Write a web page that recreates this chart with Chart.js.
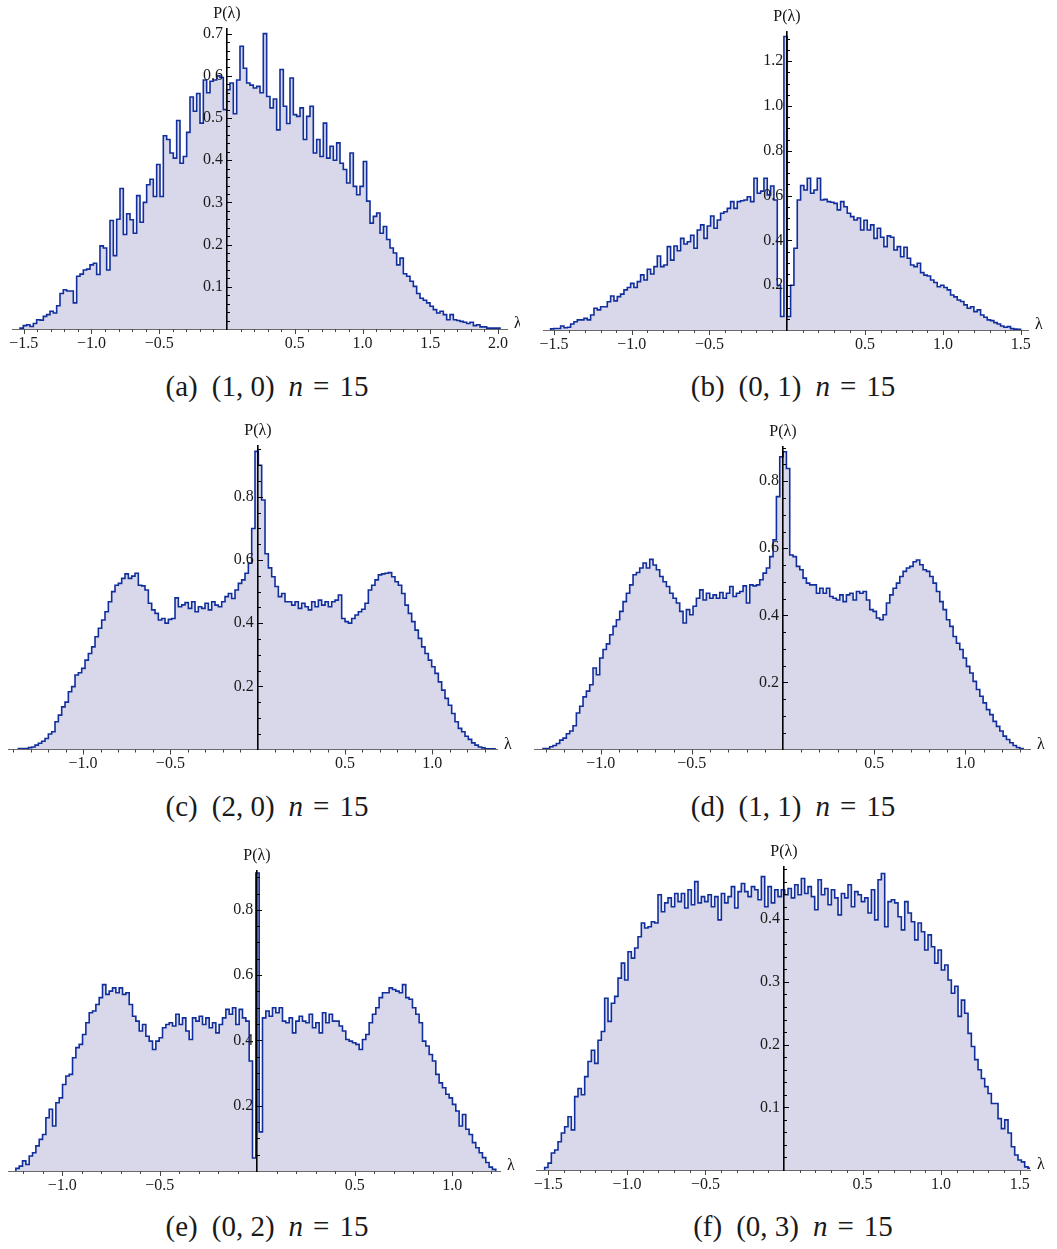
<!DOCTYPE html>
<html lang="en">
<head>
<meta charset="UTF-8">
<title>Eigenvalue densities P(λ), n = 15</title>
<script src="https://cdn.jsdelivr.net/npm/chart.js"></script>
<style>
  body { margin: 0; width: 1057px; height: 1249px; background: #fff; position: relative; overflow: hidden; }
  canvas { position: absolute; }
  .cap {
    position: absolute; transform: translate(-50%, -50%); white-space: nowrap;
    font-family: 'Liberation Serif', 'DejaVu Serif', serif; font-size: 29px; color: #1a1a1a;
  }
  .cap .eq { margin: 0 10px; }
  .cap .gap { display: inline-block; width: 14px; }
</style>
</head>
<body>
<script>
// ---- data: histogram bins (left edge of first bin, bin width) and heights ----
const binStartA = -1.5277, binWidthA = 0.0246;
const valuesA = [
  0.002, 0.008, 0.010, 0.006, 0.013, 0.022, 0.021, 0.030, 0.034, 0.042,
  0.038, 0.055, 0.084, 0.093, 0.090, 0.090, 0.062, 0.125, 0.130, 0.140,
  0.142, 0.152, 0.156, 0.129, 0.197, 0.192, 0.140, 0.257, 0.174, 0.260,
  0.333, 0.224, 0.273, 0.259, 0.227, 0.316, 0.253, 0.300, 0.342, 0.355,
  0.314, 0.390, 0.314, 0.458, 0.449, 0.417, 0.405, 0.494, 0.393, 0.409,
  0.466, 0.550, 0.516, 0.558, 0.488, 0.590, 0.560, 0.587, 0.590, 0.600,
  0.596, 0.520, 0.567, 0.583, 0.510, 0.590, 0.670, 0.618, 0.583, 0.578,
  0.571, 0.575, 0.560, 0.700, 0.551, 0.524, 0.545, 0.472, 0.615, 0.528,
  0.487, 0.595, 0.508, 0.504, 0.524, 0.449, 0.504, 0.528, 0.417, 0.449,
  0.409, 0.488, 0.405, 0.433, 0.400, 0.441, 0.393, 0.378, 0.346, 0.417,
  0.338, 0.318, 0.338, 0.397, 0.303, 0.251, 0.267, 0.275, 0.227, 0.243,
  0.212, 0.192, 0.180, 0.152, 0.168, 0.131, 0.125, 0.113, 0.101, 0.084,
  0.073, 0.068, 0.062, 0.054, 0.046, 0.038, 0.042, 0.034, 0.022, 0.034,
  0.022, 0.020, 0.018, 0.016, 0.013, 0.016, 0.008, 0.010, 0.005, 0.005,
  0.002, 0.002, 0.002, 0.002
];

const binStartB = -1.521, binWidthB = 0.02142;
const valuesB = [
  0.005, 0.007, 0.007, 0.018, 0.010, 0.012, 0.027, 0.037, 0.045, 0.045,
  0.052, 0.045, 0.067, 0.097, 0.090, 0.104, 0.104, 0.126, 0.152, 0.130,
  0.149, 0.160, 0.179, 0.190, 0.208, 0.190, 0.216, 0.246, 0.223, 0.271,
  0.250, 0.283, 0.330, 0.283, 0.290, 0.372, 0.312, 0.375, 0.354, 0.409,
  0.384, 0.394, 0.423, 0.365, 0.446, 0.469, 0.409, 0.464, 0.509, 0.454,
  0.491, 0.521, 0.528, 0.543, 0.573, 0.543, 0.573, 0.577, 0.580, 0.595,
  0.573, 0.677, 0.610, 0.620, 0.677, 0.603, 0.643, 0.580, 0.200, 0.060,
  1.310, 0.060, 0.200, 0.365, 0.580, 0.645, 0.625, 0.677, 0.610, 0.625,
  0.677, 0.580, 0.583, 0.573, 0.570, 0.565, 0.536, 0.573, 0.550, 0.521,
  0.506, 0.491, 0.500, 0.446, 0.490, 0.446, 0.469, 0.409, 0.454, 0.414,
  0.372, 0.420, 0.414, 0.357, 0.372, 0.327, 0.369, 0.320, 0.290, 0.283,
  0.298, 0.256, 0.245, 0.241, 0.223, 0.212, 0.193, 0.200, 0.190, 0.179,
  0.156, 0.148, 0.134, 0.127, 0.112, 0.097, 0.104, 0.082, 0.090, 0.067,
  0.057, 0.045, 0.042, 0.033, 0.027, 0.018, 0.012, 0.015, 0.006, 0.004,
  0.003
];

const binStartC = -1.3707, binWidthC = 0.01909;
const valuesC = [
  0.003, 0.003, 0.003, 0.006, 0.008, 0.014, 0.020, 0.026, 0.035, 0.049,
  0.056, 0.088, 0.109, 0.135, 0.150, 0.183, 0.199, 0.236, 0.243, 0.257,
  0.283, 0.304, 0.325, 0.357, 0.384, 0.410, 0.436, 0.468, 0.500, 0.520,
  0.526, 0.542, 0.556, 0.542, 0.549, 0.558, 0.520, 0.518, 0.505, 0.463,
  0.442, 0.431, 0.410, 0.415, 0.400, 0.412, 0.415, 0.480, 0.452, 0.458,
  0.465, 0.447, 0.468, 0.436, 0.452, 0.447, 0.463, 0.442, 0.468, 0.457,
  0.452, 0.468, 0.484, 0.494, 0.478, 0.505, 0.526, 0.537, 0.558, 0.590,
  0.700, 0.944, 0.900, 0.790, 0.620, 0.575, 0.547, 0.516, 0.484, 0.494,
  0.468, 0.468, 0.457, 0.468, 0.447, 0.463, 0.452, 0.442, 0.468, 0.452,
  0.473, 0.457, 0.468, 0.452, 0.468, 0.473, 0.489, 0.415, 0.405, 0.400,
  0.415, 0.426, 0.436, 0.444, 0.463, 0.505, 0.520, 0.537, 0.553, 0.556,
  0.558, 0.560, 0.547, 0.531, 0.520, 0.494, 0.457, 0.431, 0.405, 0.378,
  0.352, 0.325, 0.304, 0.283, 0.262, 0.241, 0.214, 0.188, 0.162, 0.140,
  0.114, 0.088, 0.067, 0.056, 0.042, 0.032, 0.021, 0.014, 0.008, 0.005,
  0.002, 0.002, 0.002
];

const binStartD = -1.3165, binWidthD = 0.01829;
const valuesD = [
  0.003, 0.003, 0.008, 0.012, 0.018, 0.028, 0.034, 0.047, 0.055, 0.071,
  0.109, 0.129, 0.157, 0.174, 0.193, 0.243, 0.223, 0.273, 0.298, 0.315,
  0.342, 0.367, 0.387, 0.412, 0.441, 0.466, 0.491, 0.521, 0.528, 0.541,
  0.556, 0.541, 0.567, 0.550, 0.536, 0.516, 0.500, 0.486, 0.466, 0.451,
  0.437, 0.412, 0.377, 0.417, 0.402, 0.427, 0.451, 0.476, 0.446, 0.466,
  0.451, 0.461, 0.451, 0.468, 0.451, 0.466, 0.486, 0.456, 0.466, 0.471,
  0.488, 0.437, 0.491, 0.488, 0.491, 0.506, 0.526, 0.541, 0.575, 0.625,
  0.754, 0.873, 0.888, 0.838, 0.580, 0.575, 0.546, 0.536, 0.511, 0.496,
  0.491, 0.491, 0.466, 0.481, 0.466, 0.481, 0.456, 0.451, 0.446, 0.461,
  0.441, 0.461, 0.466, 0.446, 0.471, 0.466, 0.471, 0.446, 0.417, 0.412,
  0.392, 0.387, 0.402, 0.437, 0.461, 0.481, 0.496, 0.516, 0.531, 0.541,
  0.546, 0.560, 0.565, 0.551, 0.536, 0.531, 0.516, 0.496, 0.471, 0.441,
  0.417, 0.387, 0.367, 0.337, 0.317, 0.298, 0.273, 0.248, 0.228, 0.203,
  0.179, 0.159, 0.139, 0.119, 0.104, 0.084, 0.069, 0.055, 0.040, 0.030,
  0.020, 0.012, 0.006, 0.003
];

const binStartE = -1.2376, binWidthE = 0.01709;
const valuesE = [
  0.008, 0.015, 0.031, 0.020, 0.046, 0.056, 0.077, 0.097, 0.112, 0.163,
  0.189, 0.138, 0.209, 0.224, 0.265, 0.291, 0.296, 0.347, 0.378, 0.388,
  0.418, 0.454, 0.485, 0.490, 0.510, 0.531, 0.571, 0.541, 0.551, 0.561,
  0.546, 0.561, 0.541, 0.546, 0.510, 0.474, 0.459, 0.429, 0.449, 0.413,
  0.398, 0.372, 0.398, 0.408, 0.439, 0.449, 0.454, 0.444, 0.480, 0.449,
  0.469, 0.429, 0.403, 0.469, 0.459, 0.474, 0.449, 0.469, 0.439, 0.454,
  0.423, 0.449, 0.469, 0.495, 0.480, 0.500, 0.449, 0.495, 0.469, 0.459,
  0.337, 0.040, 0.913, 0.120, 0.469, 0.490, 0.474, 0.500, 0.485, 0.500,
  0.459, 0.454, 0.469, 0.423, 0.459, 0.474, 0.459, 0.454, 0.480, 0.439,
  0.454, 0.423, 0.485, 0.454, 0.480, 0.459, 0.459, 0.444, 0.429, 0.403,
  0.398, 0.393, 0.388, 0.372, 0.403, 0.418, 0.454, 0.480, 0.500, 0.531,
  0.546, 0.546, 0.561, 0.556, 0.551, 0.546, 0.571, 0.531, 0.526, 0.500,
  0.480, 0.454, 0.398, 0.383, 0.357, 0.337, 0.296, 0.270, 0.255, 0.235,
  0.224, 0.204, 0.184, 0.138, 0.173, 0.128, 0.112, 0.087, 0.071, 0.056,
  0.041, 0.026, 0.012, 0.005
];

const binStartF = -1.5234, binWidthF = 0.02122;
const valuesF = [
  0.004, 0.011, 0.027, 0.032, 0.045, 0.059, 0.069, 0.085, 0.064, 0.117,
  0.130, 0.120, 0.149, 0.173, 0.191, 0.170, 0.207, 0.221, 0.274, 0.237,
  0.266, 0.277, 0.306, 0.330, 0.303, 0.348, 0.338, 0.354, 0.372, 0.394,
  0.386, 0.388, 0.396, 0.394, 0.439, 0.412, 0.426, 0.434, 0.420, 0.441,
  0.428, 0.441, 0.418, 0.447, 0.423, 0.460, 0.426, 0.436, 0.428, 0.439,
  0.420, 0.436, 0.399, 0.441, 0.426, 0.436, 0.452, 0.418, 0.444, 0.457,
  0.444, 0.436, 0.452, 0.447, 0.431, 0.468, 0.420, 0.452, 0.426, 0.447,
  0.436, 0.447, 0.439, 0.449, 0.434, 0.455, 0.439, 0.465, 0.441, 0.452,
  0.436, 0.415, 0.463, 0.439, 0.449, 0.423, 0.447, 0.434, 0.407, 0.441,
  0.434, 0.455, 0.420, 0.444, 0.439, 0.428, 0.434, 0.410, 0.447, 0.399,
  0.463, 0.473, 0.388, 0.428, 0.431, 0.426, 0.404, 0.383, 0.428, 0.410,
  0.396, 0.367, 0.394, 0.380, 0.351, 0.375, 0.356, 0.330, 0.351, 0.319,
  0.327, 0.303, 0.282, 0.293, 0.245, 0.271, 0.250, 0.218, 0.197, 0.176,
  0.160, 0.146, 0.133, 0.122, 0.106, 0.106, 0.082, 0.066, 0.080, 0.059,
  0.037, 0.024, 0.016, 0.013, 0.005, 0.003
];

// tick labels
const xTicksWide = [-1.5, -1.0, -0.5, 0.5, 1.0, 1.5];
const xTicksA = [-1.5, -1.0, -0.5, 0.5, 1.0, 1.5, 2.0];
const xTicksNarrow = [-1.0, -0.5, 0.5, 1.0];
const yTicksA = [0.1, 0.2, 0.3, 0.4, 0.5, 0.6, 0.7];
const yTicksB = [0.2, 0.4, 0.6, 0.8, 1.0, 1.2];
const yTicksCDE = [0.2, 0.4, 0.6, 0.8];
const yTicksF = [0.1, 0.2, 0.3, 0.4];

const captions = ['(a)', '(b)', '(c)', '(d)', '(e)', '(f)'];
const sectors = ['(1, 0)', '(0, 1)', '(2, 0)', '(1, 1)', '(0, 2)', '(0, 3)'];

// ---- layout of the six panels (page pixels) ----
// cell: [left, top, width, height]; area: [left, top, right, bottom] of the plot box
const panels = [
  { cell: [0, 0, 520, 362],     area: [12, 29, 507, 329],     x: [-1.5867, 2.0664], yMax: 0.711, yMajor: 0.1, yMinor: 0.02,
    bins: [binStartA, binWidthA, valuesA], xTicks: xTicksA, yTicks: yTicksA, capPos: [267, 386] },
  { cell: [528, 0, 529, 362],   area: [543, 32, 1028, 330],   x: [-1.570, 1.547],   yMax: 1.330, yMajor: 0.2, yMinor: 0.05,
    bins: [binStartB, binWidthB, valuesB], xTicks: xTicksWide, yTicks: yTicksB, capPos: [793, 386] },
  { cell: [0, 420, 528, 362],   area: [8, 446, 497, 749.5],   x: [-1.430, 1.3706],  yMax: 0.961, yMajor: 0.2, yMinor: 0.05,
    bins: [binStartC, binWidthC, valuesC], xTicks: xTicksNarrow, yTicks: yTicksCDE, capPos: [267, 806] },
  { cell: [528, 420, 529, 362], area: [534, 447, 1030, 749.5], x: [-1.366, 1.355],   yMax: 0.902, yMajor: 0.2, yMinor: 0.05,
    bins: [binStartD, binWidthD, valuesD], xTicks: xTicksNarrow, yTicks: yTicksCDE, capPos: [793, 806] },
  { cell: [0, 840, 528, 362],   area: [8, 871, 500, 1171],    x: [-1.278, 1.245],   yMax: 0.919, yMajor: 0.2, yMinor: 0.05,
    bins: [binStartE, binWidthE, valuesE], xTicks: xTicksNarrow, yTicks: yTicksCDE, capPos: [267, 1226] },
  { cell: [528, 840, 529, 362], area: [536, 867, 1030, 1170], x: [-1.5786, 1.566],  yMax: 0.4833, yMajor: 0.1, yMinor: 0.02,
    bins: [binStartF, binWidthF, valuesF], xTicks: xTicksWide, yTicks: yTicksF, capPos: [793, 1226] }
];

const FILL = 'rgb(216, 216, 234)';
const LINE = 'rgb(16, 46, 156)';
const SERIF = "'Liberation Serif', 'DejaVu Serif', serif";

function histPoints(start, width, values) {
  const pts = [{ x: start, y: 0 }];
  values.forEach((v, i) => pts.push({ x: start + i * width, y: v }));
  pts.push({ x: start + values.length * width, y: 0 });
  return pts;
}

function fmtTick(v) {
  if (Math.abs(v) < 1e-9) return '';
  return (v < 0 ? '\u2212' : '') + Math.abs(v).toFixed(1);
}

// minor ticks, axis names
const axisDecor = {
  id: 'axisDecor',
  afterDraw(chart, args, opts) {
    const { ctx, chartArea } = chart;
    const xs = chart.scales.x, ys = chart.scales.y;
    const x0 = Math.round(xs.getPixelForValue(0));
    const y0 = ys.getPixelForValue(0);
    ctx.save();
    ctx.lineWidth = 1;
    ctx.strokeStyle = '#444';
    for (let k = Math.ceil(xs.min * 10); k <= Math.floor(xs.max * 10); k++) {
      if (k === 0) continue;
      const px = Math.round(xs.getPixelForValue(k / 10)) + 0.5;
      const len = k % 5 === 0 ? 5 : 3;
      ctx.beginPath(); ctx.moveTo(px, y0); ctx.lineTo(px, y0 + len); ctx.stroke();
    }
    ctx.strokeStyle = '#000';
    const n = Math.floor(ys.max / opts.yMinor + 1e-6);
    for (let k = 1; k <= n; k++) {
      const v = k * opts.yMinor;
      const py = Math.round(ys.getPixelForValue(v)) + 0.5;
      const r = v / opts.yMajor;
      const len = Math.abs(r - Math.round(r)) < 1e-6 ? 5 : 3;
      ctx.beginPath(); ctx.moveTo(x0, py); ctx.lineTo(x0 + len, py); ctx.stroke();
    }
    ctx.fillStyle = '#111';
    ctx.font = '16px ' + SERIF;
    ctx.textAlign = 'center';
    ctx.textBaseline = 'middle';
    ctx.fillText('P(\u03bb)', x0, chartArea.top - 15);
    ctx.textAlign = 'left';
    ctx.fillText('\u03bb', chartArea.right + 7, y0 - 5);
    ctx.restore();
  }
};

panels.forEach((p, i) => {
  const [cl, ct, cw, ch] = p.cell;
  const [al, at, ar, ab] = p.area;
  const canvas = document.createElement('canvas');
  canvas.width = cw; canvas.height = ch;
  canvas.style.left = cl + 'px'; canvas.style.top = ct + 'px';
  document.body.appendChild(canvas);

  const tickFont = { family: SERIF, size: 16 };
  new Chart(canvas.getContext('2d'), {
    type: 'line',
    data: {
      datasets: [{
        data: histPoints(p.bins[0], p.bins[1], p.bins[2]),
        stepped: 'before',
        fill: 'origin',
        backgroundColor: FILL,
        borderColor: LINE,
        borderWidth: 1.6,
        pointRadius: 0,
        tension: 0
      }]
    },
    options: {
      responsive: false,
      animation: false,
      events: [],
      layout: { autoPadding: false, padding: { left: al - cl, top: at - ct, right: cl + cw - ar, bottom: ct + ch - ab } },
      plugins: {
        legend: { display: false },
        tooltip: { enabled: false },
        axisDecor: { yMajor: p.yMajor, yMinor: p.yMinor }
      },
      scales: {
        x: {
          type: 'linear', min: p.x[0], max: p.x[1],
          position: { y: 0 },
          grid: { display: false, drawTicks: true, tickLength: 4 },
          border: { display: true, color: '#6a6a6a', width: 1, z: 1 },
          afterBuildTicks: s => { s.ticks = p.xTicks.map(v => ({ value: v })); },
          ticks: { z: 1, autoSkip: false, maxRotation: 0, padding: 1, color: '#1a1a1a', font: tickFont, callback: v => fmtTick(v) }
        },
        y: {
          type: 'linear', min: 0, max: p.yMax,
          position: { x: 0 },
          grid: { display: false, drawTicks: false },
          border: { display: true, color: '#000', width: 1.6, z: 2 },
          afterBuildTicks: s => { s.ticks = p.yTicks.map(v => ({ value: v })); },
          ticks: { z: 2, autoSkip: false, color: '#1a1a1a', font: tickFont, callback: v => fmtTick(v) + ' ' }
        }
      }
    },
    plugins: [axisDecor]
  });

  const cap = document.createElement('div');
  cap.className = 'cap';
  cap.style.left = p.capPos[0] + 'px';
  cap.style.top = p.capPos[1] + 'px';
  cap.innerHTML = captions[i] + '<span class="gap"></span>' + sectors[i] +
    '<span class="gap"></span><i>n</i><span class="eq">=</span>15';
  document.body.appendChild(cap);
});
</script>
</body>
</html>
